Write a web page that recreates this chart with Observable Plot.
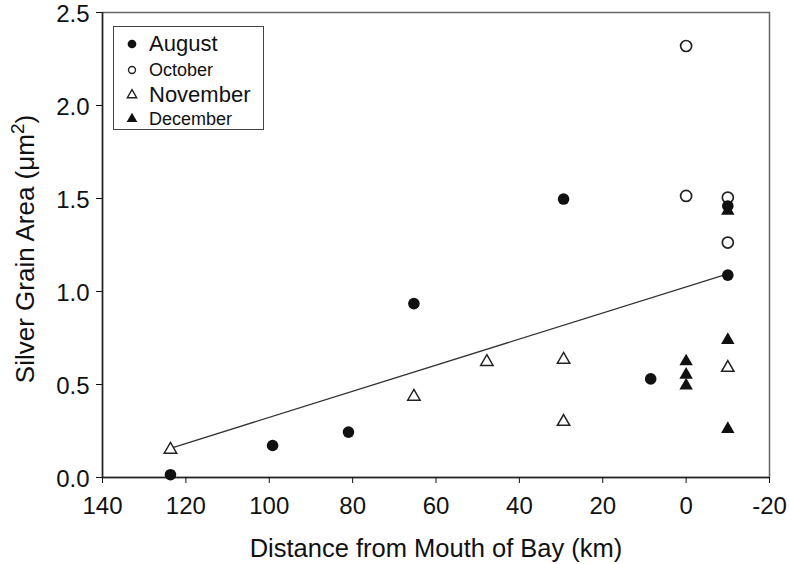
<!DOCTYPE html>
<html>
<head>
<meta charset="utf-8">
<script src="https://cdn.jsdelivr.net/npm/d3@7"></script>
<script src="https://cdn.jsdelivr.net/npm/@observablehq/plot@0.6"></script>
<style>
  html, body { margin: 0; padding: 0; background: #fff; }
  #wrap { position: relative; width: 789px; height: 564px; font-family: "Liberation Sans", Arial, sans-serif; color: #111; }
  #legend { position: absolute; left: 113px; top: 26px; width: 151px; height: 104px; border: 1.5px solid #444; background: #fff; box-sizing: border-box; }
  .item { position: absolute; left: 0; display: flex; align-items: center; white-space: nowrap; }
  .item svg { position: absolute; left: 10px; }
  .item span { position: absolute; left: 35px; line-height: 1; }
</style>
</head>
<body>
<div id="wrap"></div>
<script>
// ---- data ----
const months = ["August", "October", "November", "December"];

const augustX = [123.7, 99.2, 81.0, 65.3, 29.4, 8.5, -10, -10];
const augustY = [0.015, 0.172, 0.244, 0.935, 1.497, 0.53, 1.088, 1.46];

const octoberX = [0, 0, -10, -10];
const octoberY = [2.32, 1.514, 1.505, 1.263];

const novemberX = [123.7, 65.3, 47.8, 29.4, 29.4, -10];
const novemberY = [0.15, 0.435, 0.622, 0.634, 0.30, 0.59];

const decemberX = [0, 0, 0, -10, -10, -10];
const decemberY = [0.624, 0.552, 0.494, 0.739, 0.26, 1.434];

// regression line end points
const fitX = [123.7, -10];
const fitY = [0.157, 1.095];

const xTicks = [140, 120, 100, 80, 60, 40, 20, 0, -20];
const yTicks = [0.0, 0.5, 1.0, 1.5, 2.0, 2.5];

const xTitle = "Distance from Mouth of Bay (km)";
const yTitleMain = "Silver Grain Area (\u03BCm";
const yTitleSup = "2";
const yTitleEnd = ")";

// ---- tables ----
const toRows = (xs, ys, m) => xs.map((x, i) => ({month: m, x, y: ys[i]}));
const aug = toRows(augustX, augustY, months[0]);
const oct = toRows(octoberX, octoberY, months[1]);
const nov = toRows(novemberX, novemberY, months[2]);
const dec = toRows(decemberX, decemberY, months[3]);
const fit = fitX.map((x, i) => ({x, y: fitY[i]}));

const ink = "#111";

const chart = Plot.plot({
  width: 789,
  height: 564,
  marginLeft: 102,
  marginRight: 20,
  marginTop: 12,
  marginBottom: 87,
  style: {fontFamily: "'Liberation Sans', Arial, sans-serif", fontSize: "24px", color: ink, background: "white"},
  x: {domain: [140, -20]},
  y: {domain: [0, 2.5]},
  marks: [
    Plot.frame({stroke: "#666", strokeWidth: 1.5}),
    Plot.ruleX([140], {stroke: "#222", strokeWidth: 1.5}),
    Plot.ruleY([0], {stroke: "#222", strokeWidth: 1.5}),
    Plot.axisX({ticks: xTicks, tickFormat: d => String(d), tickSize: 6, tickPadding: 13, label: null, fontSize: 24}),
    // tick marks
    Plot.axisY({ticks: yTicks, tickFormat: () => "", tickSize: 6, label: null}),
    // tick labels, nudged slightly down as in the reference
    Plot.axisY({ticks: yTicks, tickFormat: d3.format(".1f"), tickSize: 0, tickPadding: 13, label: null, fontSize: 24, dy: 2}),
    Plot.text([xTitle], {frameAnchor: "bottom", lineAnchor: "bottom", dy: 79, fontSize: 25.5, fill: ink}),
    Plot.line(fit, {x: "x", y: "y", stroke: "#333", strokeWidth: 1.3}),
    Plot.dot(oct, {x: "x", y: "y", r: 5.5, stroke: "#222", strokeWidth: 1.7, fill: "white"}),
    Plot.dot(aug, {x: "x", y: "y", r: 5.8, fill: ink, stroke: "none"}),
    Plot.dot(nov, {x: "x", y: "y", symbol: "triangle", r: 4.6, stroke: "#222", strokeWidth: 1.5, fill: "white"}),
    Plot.dot(dec, {x: "x", y: "y", symbol: "triangle", r: 5, fill: ink, stroke: "none"})
  ]
});

const wrap = document.getElementById("wrap");
wrap.appendChild(chart);

// y-axis title with superscript
const svg = d3.select(chart);
const yt = svg.append("text")
  .attr("transform", "translate(34,249) rotate(-90)")
  .attr("text-anchor", "middle")
  .attr("font-size", 26)
  .attr("fill", ink);
yt.append("tspan").text(yTitleMain);
yt.append("tspan").attr("font-size", 19).attr("dy", -10).text(yTitleSup);
yt.append("tspan").attr("dy", 10).text(yTitleEnd);

// legend
const legend = document.createElement("div");
legend.id = "legend";
const legendRows = [
  {m: months[0], top: 17, fs: 22, sym: "circle", fill: ink, stroke: "none"},
  {m: months[1], top: 42.5, fs: 18, sym: "circle", fill: "white", stroke: "#222"},
  {m: months[2], top: 67.5, fs: 22, sym: "triangle", fill: "white", stroke: "#222"},
  {m: months[3], top: 92, fs: 18, sym: "triangle", fill: ink, stroke: "none"}
];
for (const r of legendRows) {
  const item = document.createElement("div");
  item.className = "item";
  item.style.top = r.top + "px";
  const symPath = r.sym === "circle"
    ? d3.symbol(d3.symbolCircle, r.fill === "white" ? 38 : 60)()
    : d3.symbol(d3.symbolTriangle, r.fill === "white" ? 38 : 50)();
  item.innerHTML = `<svg width="16" height="16" viewBox="-8 -8 16 16" style="top:-8px"><path d="${symPath}" fill="${r.fill}" stroke="${r.stroke}" stroke-width="1.4"/></svg><span style="font-size:${r.fs}px; transform: translateY(-50%); top:0">${r.m}</span>`;
  legend.appendChild(item);
}
wrap.appendChild(legend);
</script>
</body>
</html>
